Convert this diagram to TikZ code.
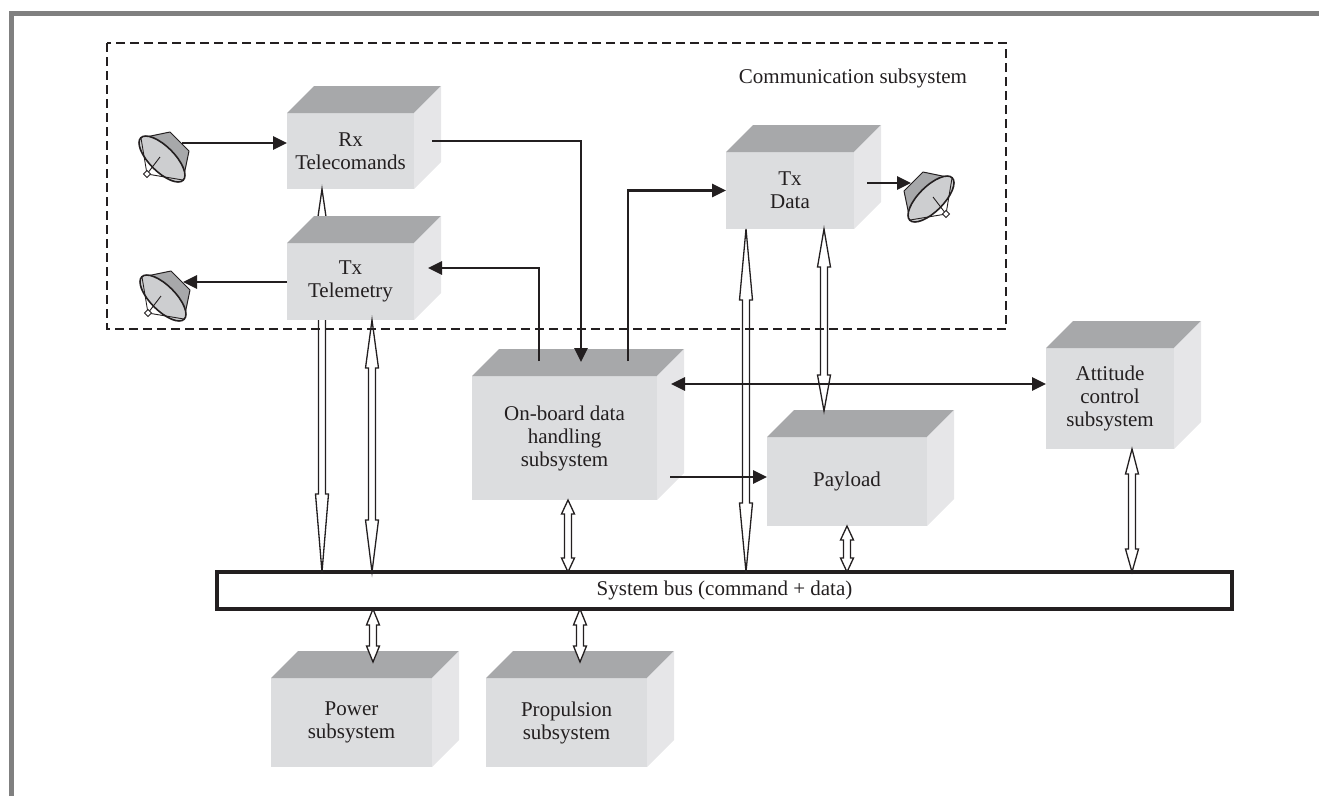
\documentclass[tikz,border=0pt]{standalone}
\usepackage{fontspec}
\setmainfont{Liberation Serif}
\usetikzlibrary{positioning,calc,arrows.meta}

\definecolor{frontgray}{RGB}{220,221,223}
\definecolor{topgray}{RGB}{167,168,170}
\definecolor{sidegray}{RGB}{230,230,232}
\definecolor{dishgray}{RGB}{205,206,208}
\definecolor{framegray}{RGB}{128,128,128}
\definecolor{ink}{RGB}{35,31,32}

\newcommand{\boxfont}{\fontsize{21}{23}\selectfont}
% top and right faces of a box
\newcommand{\cubefaces}[1]{%
  \fill[topgray] (#1.north west) -- ++(27,-27) -- ($(#1.north east)+(27,-27)$) -- (#1.north east) -- cycle;
  \fill[sidegray] (#1.north east) -- ++(27,-27) -- ($(#1.south east)+(27,-27)$) -- (#1.south east) -- cycle;}

\tikzset{
  cube/.style 2 args={fill=frontgray, text=ink, font=\boxfont, align=center,
    inner sep=0pt, outer sep=0pt, minimum width=#1, minimum height=#2},
  busbar/.style={draw=ink, fill=white, line width=3.5pt, text=ink, font=\boxfont,
    inner sep=0pt, outer sep=0pt, minimum width=1015pt, minimum height=37pt},
  commbox/.style={draw=ink, line width=2.4pt, dash pattern=on 9pt off 5pt},
  link/.style={draw=ink, line width=2.8pt},
  >={Triangle[length=14pt,width=13pt]},
  hollow/.style={draw=ink, fill=white, line width=1.3pt},
  dual/.style 2 args={to path={
    (\tikztostart) -- ++(6.5,#1) -- ++(-3,0)
    -- ($(\tikztotarget)+(3.5,-#2)$) -- ++(3,0) -- (\tikztotarget)
    -- ++(-6.5,-#2) -- ++(3,0)
    -- ($(\tikztostart)+(-3.5,#1)$) -- ++(-3,0) -- cycle}},
  antenna/.pic={
    \fill[topgray, draw=ink, line width=1pt, line join=round]
      (-21,-21) -- (8,-27) -- (27,-8) -- (21,21) -- cycle;
    \draw[ink, fill=dishgray, line width=1.6pt, rotate=-45] (0,0) ellipse (30 and 12.5);
    \draw[ink, line width=0.9pt] (-21,-21) -- (-15,15) -- (21,21);
    \draw[ink, line width=0.9pt] (-2,-2) -- (-15,15);
    \draw[ink, fill=white, line width=0.9pt]
      (-15,15) +(-3.5,0) -- +(0,3.5) -- +(3.5,0) -- +(0,-3.5) -- cycle;
    \coordinate (-port) at (20,-16);
  },
}

\begin{document}
\begin{tikzpicture}[x=1pt, y=-1pt]

  \useasboundingbox (0,0) rectangle (1319,796);
  \draw[framegray, line width=5pt] (11.5,796) -- (11.5,13) -- (1319,13);

  % Boxes
  \node[cube={127pt}{76pt}] (rx) at (350.5,151) {Rx\\Telecomands};
  \cubefaces{rx}
  \node[busbar] (bus) at (724.5,590.5) {System bus (command + data)};

  % this one runs behind Tx Telemetry
  \draw[hollow, dual={45}{78}] ($(rx.south west)+(35,0)$) to ($(bus.north west)+(105,0)$);

  \node[cube={127pt}{77pt}, below=54pt of rx] (txtel) {Tx\\Telemetry};
  \cubefaces{txtel}
  \node[cube={128pt}{77pt}] (txdata) at (790,190.5) {Tx\\Data};
  \cubefaces{txdata}
  \node[cube={185pt}{124pt}] (obdh) at (564.5,438) {On-board data\\handling\\subsystem};
  \cubefaces{obdh}
  \node[cube={160pt}{89pt}] (payload) at (847,481.5) {Payload};
  \cubefaces{payload}
  \node[cube={128pt}{101pt}] (attitude) at (1110,398.5) {Attitude\\control\\subsystem};
  \cubefaces{attitude}
  \node[cube={161pt}{89pt}] (power) at (351.5,722.5) {Power\\subsystem};
  \cubefaces{power}
  \node[cube={161pt}{89pt}, right=54pt of power] (propulsion) {Propulsion\\subsystem};
  \cubefaces{propulsion}

  % Antennas
  \pic (ant1) at (162,159) {antenna};
  \pic (ant2) at (163,298) {antenna};
  \pic[xscale=-1] (ant3) at (931,199) {antenna};

  % Bus links
  \draw[hollow, dual={48}{52}] ($(txtel.south west)+(85,0)$) to ($(bus.north west)+(155,0)$);
  \draw[hollow, dual={71}{69}] ($(txdata.south west)+(20,0)$) to ($(bus.north west)+(529,0)$);
  \draw[hollow, dual={38}{36}] ($(txdata.south west)+(98,0)$) to ($(payload.north west)+(57,-26)$);
  \draw[hollow, dual={14}{14}] ($(obdh.south west)+(96,0)$) to ($(bus.north west)+(351,0)$);
  \draw[hollow, dual={14}{14}] (payload.south) to ($(bus.north west)+(630,0)$);
  \draw[hollow, dual={25}{23}] ($(attitude.south west)+(86,0)$) to ($(bus.north west)+(915,0)$);
  \draw[hollow, dual={16}{16}] ($(bus.south west)+(156,0)$) to ($(power.north west)+(102,-16)$);
  \draw[hollow, dual={16}{16}] ($(bus.south west)+(363,0)$) to ($(propulsion.north west)+(94,-16)$);

  % Communication subsystem
  \draw[commbox] (107,43) rectangle (1006,329);
  \node[text=ink, font=\boxfont] (comm) at (853,78) {Communication subsystem};

  % Signal links
  \draw[link, ->] (ant1-port) -- (ant1-port -| rx.west);
  \draw[link, ->] (txtel.west |- ant2-port) -- (ant2-port);
  \draw[link, ->] ($(rx.east)+(18,-10)$) -| ($(obdh.north west)+(109,-14)$);
  \draw[link, ->] ($(obdh.north west)+(67,-15)$) |- ($(txtel.east)+(14,-13.5)$);
  \draw[link, ->] ($(obdh.north west)+(156,-15)$) |- (txdata.west);
  \draw[link, ->] ($(txdata.east)+(13,-7.5)$) -- (ant3-port);
  \draw[link, <->] ($(obdh.east)+(14,-54)$) -- ($(attitude.west)+(0,-14.5)$);
  \draw[link, ->] ($(obdh.east)+(13,39)$) -- ($(payload.west)+(0,-4.5)$);

\end{tikzpicture}
\end{document}
